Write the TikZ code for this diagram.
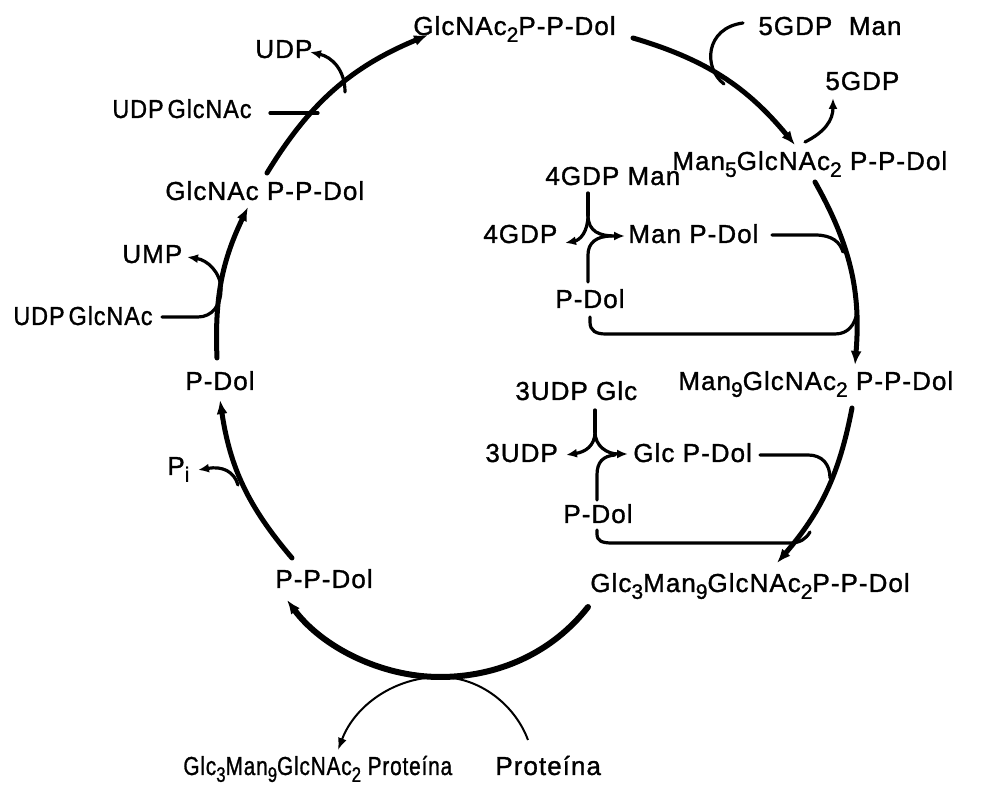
\documentclass[tikz,border=0pt]{standalone}
\usepackage{fontspec}
\setmainfont{Liberation Sans}[LetterSpace=4,FakeBold=1.2]
\usetikzlibrary{arrows.meta}
\newcommand\lo[1]{\raisebox{-0.5ex}{\fontsize{10.5}{10.5}\selectfont #1}}
\begin{document}
\begin{tikzpicture}[x=0.5pt,y=0.5pt,
  lbl/.style={font=\fontsize{13}{15}\selectfont, inner sep=0pt, anchor=base west},
  mainarc/.style={line width=2.5pt, line cap=round, -{Latex[length=7pt,width=5.5pt]}},
  branch/.style={line width=1.6pt, line cap=round},
  barrow/.style={branch, -{Latex[length=5.5pt,width=4.5pt]}},
  thinarc/.style={line width=1pt, -{Latex[length=6pt,width=4.5pt]}}]
\useasboundingbox (0,0) rectangle (993,-786);
% texts
\node[lbl] (t1) at (413,-35) {GlcNAc\lo{2}P-P-Dol};
\node[lbl] (t2) at (758,-35) {5GDP\ \ Man};
\node[lbl] (t3) at (825,-90) {5GDP};
\node[lbl] (t4) at (672,-170) {Man\lo{5}GlcNAc\lo{2} P-P-Dol};
\node[lbl] (t5) at (545,-185) {4GDP Man};
\node[lbl] (t6) at (483,-243) {4GDP};
\node[lbl] (t7) at (628,-243) {Man P-Dol};
\node[lbl] (t8) at (555,-308) {P-Dol};
\node[lbl] (t9) at (678,-390) {Man\lo{9}GlcNAc\lo{2} P-P-Dol};
\node[lbl] (t10) at (515,-400) {3UDP Glc};
\node[lbl] (t11) at (485,-462) {3UDP};
\node[lbl] (t12) at (633,-462) {Glc P-Dol};
\node[lbl] (t13) at (563,-523) {P-Dol};
\node[lbl] (t14) at (590,-592) {Glc\lo{3}Man\lo{9}GlcNAc\lo{2}P-P-Dol};
\node[lbl] (t15) at (275,-588) {P-P-Dol};
\node[lbl] (t16) at (167,-475) {P\lo{i}};
\node[lbl] (t17) at (185,-390) {P-Dol};
\node[lbl] (t18) at (13,-325) {\scalebox{0.9}[1]{UDP\,GlcNAc}};
\node[lbl] (t19) at (122,-263) {UMP};
\node[lbl] (t20) at (165,-200) {GlcNAc P-P-Dol};
\node[lbl] (t21) at (112,-118) {\scalebox{0.9}[1]{UDP\,GlcNAc}};
\node[lbl] (t22) at (255,-58) {UDP};
\node[lbl] (t23) at (183,-775) {\scalebox{0.8}[1]{Glc\lo{3}Man\lo{9}GlcNAc\lo{2} Proteína}};
\node[lbl] (t24) at (495,-775) {Proteína};
% arc end points
\coordinate (a1s) at (267,-173); \coordinate (a1e) at (428,-35);
\coordinate (a2s) at (633,-38);  \coordinate (a2e) at (795,-145);
\coordinate (a3s) at (815,-182); \coordinate (a3e) at (855,-365);
\coordinate (a4s) at (852,-408); \coordinate (a4e) at (777,-563);
\coordinate (a5s) at (588,-607); \coordinate (a5m) at (440,-677); \coordinate (a5e) at (287,-600);
\coordinate (a6s) at (292,-558); \coordinate (a6e) at (220,-400);
\coordinate (a7s) at (217,-358); \coordinate (a7e) at (248,-207);
% main cycle
\draw[mainarc] (a1s) to[bend left=18] (a1e);
\draw[mainarc] (a2s) to[bend left=17] (a2e);
\draw[mainarc] (a3s) to[bend left=17] (a3e);
\draw[mainarc] (a4s) to[bend left=15] (a4e);
\draw[mainarc,line width=3pt] (a5s) .. controls (552,-653) and (498,-677) .. (a5m) .. controls (381,-677) and (322,-647) .. (a5e);
\draw[mainarc] (a6s) to[bend left=16] (a6e);
\draw[mainarc] (a7s) to[bend left=14] (a7e);
% protein exchange
\coordinate (p1) at (528,-740); \coordinate (p2) at (338,-750);
\draw[thinarc] (p1) .. controls (515,-705) and (480,-677) .. (a5m) .. controls (395,-677) and (355,-705) .. (p2);
% left side branches
\draw[branch] (270,-113) -- (318,-113);
\draw[barrow] (345,-92) .. controls (345,-70) and (332,-57) .. (310,-52);
\draw[barrow] (162,-317) -- (198,-317) .. controls (212,-317) and (221,-305) .. (221,-290) .. controls (221,-272) and (207,-260) .. (187,-257);
\draw[barrow] (238,-485) .. controls (234,-471) and (222,-466) .. (198,-470);
% top right branches
\draw[branch] (743,-23) .. controls (705,-28) and (703,-68) .. (724,-84);
\draw[barrow] (805,-142) .. controls (825,-132) and (833,-120) .. (833,-98);
% inner loop 1
\coordinate (y1j) at (588,-215);
\draw[branch] (588,-193) -- (y1j);
\draw[barrow] (y1j) .. controls (588,-232) and (580,-240) .. (565,-243);
\draw[barrow] (y1j) .. controls (588,-232) and (600,-236) .. (625,-236);
\draw[branch] (588,-282) -- (588,-255) .. controls (588,-243) and (596,-236) .. (612,-236);
\draw[branch] (772,-235) -- (815,-235) .. controls (832,-235) and (840,-242) .. (843,-252);
\draw[branch] (590,-317) -- (590,-322) .. controls (590,-331) and (596,-334) .. (606,-334) -- (835,-334) .. controls (848,-334) and (855,-325) .. (857,-312);
% inner loop 2
\coordinate (y2j) at (595,-432);
\draw[branch] (595,-410) -- (y2j);
\draw[barrow] (y2j) .. controls (595,-446) and (585,-452) .. (566,-455);
\draw[barrow] (y2j) .. controls (595,-446) and (607,-454) .. (628,-454);
\draw[branch] (597,-500) -- (597,-475) .. controls (597,-462) and (603,-456) .. (615,-455);
\draw[branch] (760,-455) -- (808,-455) .. controls (822,-455) and (830,-464) .. (830,-478);
\draw[branch] (597,-530) -- (597,-534) .. controls (597,-541) and (602,-543) .. (612,-543) -- (790,-543) .. controls (800,-543) and (806,-539) .. (810,-532);
\end{tikzpicture}
\end{document}
